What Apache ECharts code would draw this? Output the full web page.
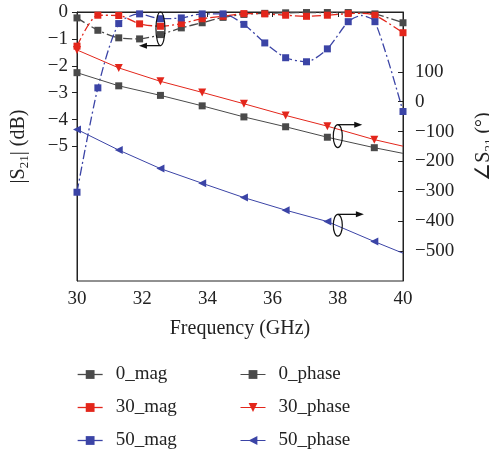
<!DOCTYPE html>
<html><head><meta charset="utf-8">
<script src="https://cdn.jsdelivr.net/npm/echarts@6/dist/echarts.min.js"></script>
<style>html,body{margin:0;padding:0;background:#fff}#c{width:489px;height:457px}</style>
</head><body><div id="c"></div>
<script>
// ---- data ----
const magFreq  = [30, 30.64, 31.28, 31.92, 32.56, 33.2, 33.84, 34.48, 35.12, 35.76, 36.4, 37.04, 37.68, 38.32, 38.73, 39.14, 40];
const magMarker = [1,1,1,1,1,1,1,1,1,1,1,1,1,1,0,1,1];
const mag0  = [-0.22, -0.68, -0.96, -1.00, -0.84, -0.59, -0.40, -0.20, -0.09, -0.05, -0.03, -0.02, -0.02, -0.02, -0.03, -0.07, -0.40];
const mag30 = [-1.27, -0.12, -0.13, -0.44, -0.53, -0.43, -0.25, -0.16, -0.06, -0.07, -0.12, -0.16, -0.12, -0.06, -0.05, -0.12, -0.77];
const mag50 = [-6.70, -2.82, -0.43, -0.07, -0.25, -0.22, -0.07, -0.07, -0.46, -1.15, -1.70, -1.85, -1.37, -0.36, -0.13, -0.36, -3.70];

const phaseFreq = [30, 31.28, 32.56, 33.84, 35.12, 36.4, 37.68, 39.12, 40];
const phaseMarker = [1,1,1,1,1,1,1,1,0];
const phase0  = [97, 53, 21, -14, -51, -84, -119, -154, -173];
const phase30 = [173, 113, 68, 31, -7, -46, -82, -127, -149];
const phase50 = [-93, -162, -224, -273, -321, -363, -401, -468, -507];

const xTicks = [30, 32, 34, 36, 38, 40];
const magTicks = [0, -1, -2, -3, -4, -5];
const phaseTicks = [100, 0, -100, -200, -300, -400, -500];

const names = ['0_mag', '30_mag', '50_mag', '0_phase', '30_phase', '50_phase'];

// ---- styling ----
const FONT = 'Liberation Serif';
const GRAY = '#4a4a4a', RED = '#e3261b', BLUE = '#3b44a6';
const minus = v => String(v).replace('-', '\u2212');

function pts(xs, ys, marks) {
  return xs.map((x, i) => marks[i] ? [x, ys[i]] : { value: [x, ys[i]], symbol: 'none' });
}

const magLine = c => ({ color: c, width: 1.3, type: [9, 3, 2, 3] });

const chart = echarts.init(document.getElementById('c'), null, { renderer: 'canvas' });
chart.setOption({
  animation: false,
  textStyle: { fontFamily: FONT },
  grid: { left: 77, right: 86, top: 12, bottom: 176, show: true, borderColor: '#222', borderWidth: 1,
          containLabel: false, outerBoundsMode: 'none' },
  xAxis: {
    type: 'value', min: 30, max: 40, interval: 2,
    name: 'Frequency (GHz)', nameLocation: 'middle', nameGap: 38,
    nameTextStyle: { fontSize: 20, color: '#222', fontFamily: FONT },
    axisLine: { lineStyle: { color: '#222' } },
    axisTick: { length: 5, lineStyle: { color: '#222' } },
    axisLabel: { fontSize: 19, color: '#222', margin: 9, fontFamily: FONT, customValues: xTicks },
    splitLine: { show: false }
  },
  yAxis: [{
    type: 'value', min: -10, max: 0, interval: 1, position: 'left',
    name: '|S{s|21}| (dB)', nameLocation: 'middle', nameGap: 46, nameRotate: 90,
    nameTextStyle: { fontSize: 20, color: '#222', fontFamily: FONT,
      rich: { s: { fontSize: 13, fontFamily: FONT, color: '#222', padding: [12, 0, 0, 0] } } },
    axisLine: { show: true, lineStyle: { color: '#222' } },
    axisTick: { show: true, length: 5, customValues: magTicks, lineStyle: { color: '#222' } },
    axisLabel: { fontSize: 19, color: '#222', margin: 9, fontFamily: FONT, customValues: magTicks, formatter: minus },
    splitLine: { show: false }
  }, {
    type: 'value', min: -600, max: 300, interval: 100, position: 'right',
    name: '\u2220S{s|21} (\u00b0)', nameLocation: 'middle', nameGap: 68, nameRotate: 90,
    nameTextStyle: { fontSize: 20, color: '#222', fontFamily: FONT,
      rich: { s: { fontSize: 13, fontFamily: FONT, color: '#222', padding: [12, 0, 0, 0] } } },
    axisLine: { show: true, lineStyle: { color: '#222' } },
    axisTick: { show: true, inside: true, length: 5, customValues: phaseTicks, lineStyle: { color: '#222' } },
    axisLabel: { fontSize: 19, color: '#222', margin: 12, fontFamily: FONT, customValues: phaseTicks, formatter: minus },
    splitLine: { show: false }
  }],
  legend: [{
    orient: 'vertical', left: 77, top: 364, padding: 0, itemWidth: 25, itemHeight: 11, itemGap: 12,
    data: names.slice(0, 3),
    lineStyle: { type: 'solid', width: 1.3 },
    textStyle: { fontSize: 19, color: '#222', fontFamily: FONT, lineHeight: 21, padding: [0, 0, 0, 8] }
  }, {
    orient: 'vertical', left: 240, top: 364, padding: 0, itemWidth: 25, itemHeight: 11, itemGap: 12,
    data: names.slice(3),
    lineStyle: { type: 'solid', width: 1 },
    textStyle: { fontSize: 19, color: '#222', fontFamily: FONT, lineHeight: 21, padding: [0, 0, 0, 8] }
  }],
  series: [
    { name: '0_mag', type: 'line', yAxisIndex: 0, data: pts(magFreq, mag0, magMarker), smooth: 0.25,
      symbol: 'rect', symbolSize: 7, color: GRAY, lineStyle: magLine(GRAY), clip: false, z: 2 },
    { name: '30_mag', type: 'line', yAxisIndex: 0, data: pts(magFreq, mag30, magMarker), smooth: 0.25,
      symbol: 'rect', symbolSize: 7, color: RED, lineStyle: magLine(RED), clip: false, z: 3 },
    { name: '50_mag', type: 'line', yAxisIndex: 0, data: pts(magFreq, mag50, magMarker), smooth: 0.25,
      symbol: 'rect', symbolSize: 7, color: BLUE, lineStyle: magLine(BLUE), clip: false, z: 4 },
    { name: '0_phase', type: 'line', yAxisIndex: 1, data: pts(phaseFreq, phase0, phaseMarker),
      symbol: 'rect', symbolSize: 7, color: GRAY, lineStyle: { color: GRAY, width: 1 }, clip: false, z: 5 },
    { name: '30_phase', type: 'line', yAxisIndex: 1, data: pts(phaseFreq, phase30, phaseMarker),
      symbol: 'triangle', symbolRotate: 180, symbolSize: 8, color: RED, lineStyle: { color: RED, width: 1 }, clip: false, z: 5 },
    { name: '50_phase', type: 'line', yAxisIndex: 1, data: pts(phaseFreq, phase50, phaseMarker),
      symbol: 'triangle', symbolRotate: 90, symbolSize: 8, color: BLUE, lineStyle: { color: BLUE, width: 1 }, clip: false, z: 5 }
  ]
});

// ---- annotation ellipses with arrows, positioned in data space ----
function px(x, y, axis) { return chart.convertToPixel({ xAxisIndex: 0, yAxisIndex: axis }, [x, y]); }
function annot(cx, cyTop, cyBot, axis, arrowAtTop, arrowToX, dir) {
  const t = px(cx, cyTop, axis), b = px(cx, cyBot, axis);
  const c = [t[0], (t[1] + b[1]) / 2], ry = Math.abs(b[1] - t[1]) / 2;
  const ay = arrowAtTop ? t[1] : b[1];
  const end = px(arrowToX, 0, axis)[0];
  const head = dir > 0 ? [[end, ay], [end - 8, ay - 3], [end - 8, ay + 3]] : [[end, ay], [end + 8, ay - 3], [end + 8, ay + 3]];
  return [
    { type: 'ellipse', shape: { cx: c[0], cy: c[1], rx: 4.5, ry: ry }, style: { fill: 'none', stroke: '#111', lineWidth: 1.2 }, z: 50 },
    { type: 'line', shape: { x1: c[0], y1: ay, x2: end + (dir > 0 ? -6 : 6), y2: ay }, style: { stroke: '#111', lineWidth: 1.3 }, z: 50 },
    { type: 'polygon', shape: { points: head }, style: { fill: '#111' }, z: 50 }
  ];
}
chart.setOption({
  graphic: [].concat(
    annot(32.56, 0.0, -1.25, 0, false, 31.9, -1),
    annot(38.0, -77, -154, 1, true, 38.75, 1),
    annot(38.0, -377, -450, 1, true, 38.8, 1)
  )
});
</script></body></html>
